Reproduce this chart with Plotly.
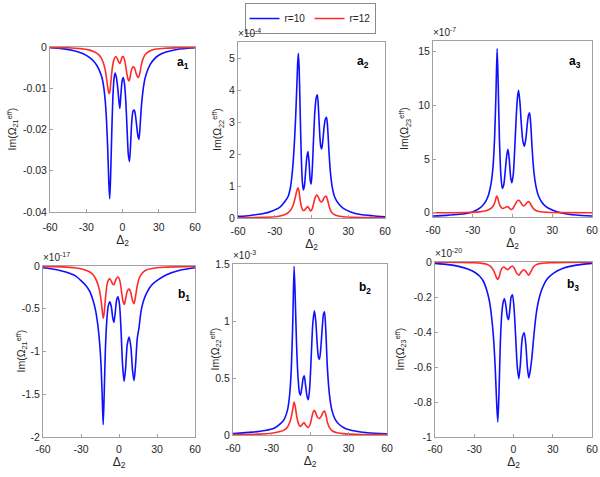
import plotly.graph_objects as go

W, H = 600, 477

# ---------------- data ----------------
# a1 : Im(Omega21 eff)
a1_blue_x = [-60,-50,-40,-33,-28,-24,-21,-19,-17,-15.5,-14.3,-13.2,-12.2,-11.3,-10.6,-9.9,-9,-8,-7,-6.1,-5,-4,-3,-2.2,-1.3,-0.3,0.6,1.7,2.8,3.8,4.8,5.8,6.8,7.8,8.8,9.7,10.7,11.7,12.7,13.6,14.6,15.6,17,18.5,20.5,23,26,30,36,45,60]
a1_blue_y = [-0.0002,-0.0004,-0.0009,-0.0016,-0.0024,-0.0034,-0.0046,-0.0058,-0.0074,-0.0098,-0.013,-0.018,-0.025,-0.033,-0.0368,-0.032,-0.022,-0.0125,-0.0076,-0.0063,-0.0075,-0.0098,-0.013,-0.0149,-0.0115,-0.0082,-0.0074,-0.009,-0.0135,-0.02,-0.026,-0.0278,-0.023,-0.0175,-0.0155,-0.0153,-0.0165,-0.019,-0.0215,-0.0224,-0.019,-0.0145,-0.0105,-0.0078,-0.0058,-0.0042,-0.003,-0.002,-0.0012,-0.0006,-0.0002]
a1_red_x = [-60,-45,-35,-28,-23,-20,-17.5,-15.5,-14,-12.8,-11.8,-11.1,-10.3,-9.4,-8.3,-7,-5.6,-4.3,-3.2,-2.2,-1.2,-0.2,0.6,1.6,2.7,3.8,4.8,5.6,6.5,7.5,8.4,9.2,10.2,11.3,12.4,13.3,14.3,15.3,16.5,18,20,23,28,35,45,60]
a1_red_y = [-0.0001,-0.0002,-0.0004,-0.0007,-0.0012,-0.0018,-0.0027,-0.0042,-0.006,-0.0085,-0.0105,-0.0113,-0.0105,-0.0078,-0.0048,-0.003,-0.0023,-0.0028,-0.0036,-0.004,-0.0032,-0.0024,-0.0023,-0.003,-0.0047,-0.0068,-0.008,-0.0082,-0.007,-0.0055,-0.0049,-0.0048,-0.0053,-0.0064,-0.0072,-0.0074,-0.0064,-0.0048,-0.0033,-0.0022,-0.0015,-0.0009,-0.0005,-0.0003,-0.0002,-0.0001]

# a2 : Im(Omega22 eff) x 1e-4
a2_blue_x = [-60,-50,-40,-32,-26,-22,-19,-17,-15.5,-14.2,-13,-12,-11.2,-10.7,-10.1,-9.3,-8.4,-7.5,-6.7,-5.8,-4.8,-3.8,-2.9,-2,-1.1,-0.3,0.6,1.6,2.7,3.8,4.8,5.7,6.6,7.5,8.3,9.2,10.3,11.4,12.3,13.2,14.3,15.5,17,19,22,26,32,40,50,60]
a2_blue_y = [0.05,0.08,0.13,0.22,0.33,0.5,0.68,1.0,1.5,2.2,3.1,4.1,4.9,5.15,4.7,3.4,2.0,1.15,0.88,1.0,1.45,1.9,2.08,1.75,1.2,1.06,1.5,2.4,3.3,3.75,3.85,3.4,2.7,2.25,2.16,2.4,2.85,3.1,3.15,2.8,2.05,1.4,0.95,0.65,0.45,0.3,0.19,0.11,0.07,0.04]
a2_red_x = [-60,-40,-30,-24,-20,-17,-15,-13.5,-12.2,-11.2,-10.4,-9.4,-8.2,-7,-5.8,-4.6,-3.2,-2,-0.8,0.3,1.5,2.8,4.3,5.6,7,8.3,9.5,10.8,12,13.2,14.5,16,18,21,26,35,60]
a2_red_y = [0.01,0.02,0.04,0.08,0.14,0.25,0.4,0.6,0.82,0.94,0.88,0.6,0.35,0.24,0.24,0.3,0.36,0.3,0.22,0.26,0.42,0.62,0.72,0.65,0.53,0.5,0.57,0.66,0.68,0.55,0.35,0.2,0.12,0.07,0.04,0.02,0.01]

# a3 : Im(Omega23 eff) x 1e-7
a3_blue_x = [-60,-50,-40,-32,-27,-23,-20,-18,-16.2,-14.7,-13.5,-12.5,-11.6,-10.8,-9.9,-8.8,-7.7,-6.6,-5.4,-4.3,-3.4,-2.4,-1.4,-0.5,0.6,1.7,2.8,3.8,4.6,5.6,6.7,7.8,9.0,10.1,11.2,12.1,12.9,13.8,14.8,16,17.5,19.5,22,25,30,38,48,60]
a3_blue_y = [-0.3,-0.25,-0.15,0.0,0.25,0.6,1.1,1.7,2.7,4.3,7,11,15.3,12,7,3.6,2.26,2.6,4.0,5.4,5.9,4.9,3.3,2.8,3.6,6,8.9,10.8,11.4,10.3,8.2,6.7,6.2,6.9,8.3,9.1,9.3,8.2,6,4,2.6,1.6,1.0,0.6,0.25,-0.05,-0.22,-0.3]
a3_red_x = [-60,-35,-25,-20,-17,-15,-13.5,-12.6,-12,-11.2,-10.2,-9,-7.5,-6,-4.5,-3.5,-2.3,-1,0.3,1.5,2.8,4,5,6.2,7.5,8.5,9.7,11,12.2,13.2,14.5,16,18,21,26,35,60]
a3_red_y = [0.0,0.02,0.08,0.18,0.35,0.55,0.9,1.3,1.55,1.4,0.9,0.55,0.4,0.45,0.55,0.55,0.42,0.3,0.4,0.65,0.95,1.15,1.15,0.95,0.7,0.62,0.75,0.95,1.05,0.9,0.6,0.35,0.18,0.09,0.04,0.01,0.0]

# b1 : Im(Omega21 eff) x 1e-17
b1_blue_x = [-60,-50,-42,-35,-30,-26,-23,-20.5,-18.5,-16.8,-15.3,-14.2,-13.3,-12.5,-11.7,-10.8,-9.7,-8.5,-7.2,-6,-5,-4,-3,-1.9,-0.8,0.4,1.6,2.8,4.0,5.2,6.5,8.0,9.4,10.7,11.9,13.1,14.4,15.8,17.5,19.5,22,26,31,38,48,60]
b1_blue_y = [-0.02,-0.04,-0.07,-0.11,-0.17,-0.23,-0.3,-0.4,-0.52,-0.68,-0.9,-1.15,-1.5,-1.856,-1.5,-1.0,-0.65,-0.47,-0.42,-0.48,-0.6,-0.66,-0.55,-0.4,-0.36,-0.45,-0.75,-1.15,-1.35,-1.2,-0.92,-0.83,-0.95,-1.22,-1.34,-1.15,-0.85,-0.72,-0.52,-0.4,-0.31,-0.22,-0.16,-0.1,-0.05,-0.02]
b1_red_x = [-60,-45,-35,-28,-23,-20,-17.5,-15.5,-14,-13.2,-12.5,-11.7,-10.7,-9.5,-8.3,-7.2,-6,-5,-4,-3,-1.8,-0.5,0.8,2,3.1,4.2,5.3,6.6,8,9.3,10.6,11.9,13,14.3,16,18,21,26,35,60]
b1_red_y = [-0.005,-0.01,-0.02,-0.04,-0.07,-0.11,-0.18,-0.28,-0.42,-0.53,-0.61,-0.55,-0.38,-0.22,-0.16,-0.15,-0.18,-0.21,-0.22,-0.18,-0.14,-0.13,-0.18,-0.3,-0.41,-0.45,-0.38,-0.29,-0.27,-0.31,-0.4,-0.44,-0.36,-0.24,-0.14,-0.09,-0.05,-0.03,-0.015,-0.005]

# b2 : Im(Omega22 eff) x 1e-3
b2_blue_x = [-60,-45,-35,-28,-23,-20,-17.5,-15.8,-14.5,-13.4,-12.4,-11.5,-10.5,-9.3,-8.2,-7.4,-6.3,-5.3,-4.5,-3.5,-2.3,-1.3,-0.2,1,2.2,3.4,4.5,5.6,6.6,7.4,8.4,9.6,10.5,11.3,12.3,13.5,15,17,19.5,23,28,35,45,60]
b2_blue_y = [0.012,0.025,0.04,0.06,0.1,0.14,0.22,0.36,0.6,1.0,1.48,1.2,0.8,0.5,0.37,0.35,0.42,0.5,0.52,0.44,0.34,0.31,0.42,0.7,0.98,1.09,1.0,0.8,0.68,0.665,0.76,0.95,1.06,1.08,0.92,0.6,0.37,0.22,0.14,0.09,0.055,0.035,0.02,0.01]
b2_red_x = [-60,-40,-30,-24,-20,-17.5,-15.5,-14,-13,-12.4,-11.5,-10.3,-9,-7.7,-6.2,-4.7,-3.3,-1.5,0,1.3,2.4,3.4,4.6,5.9,7.4,8.8,10.2,11.3,12.4,13.6,15.2,17.5,21,28,40,60]
b2_red_y = [0.003,0.008,0.015,0.028,0.045,0.07,0.12,0.19,0.26,0.29,0.25,0.16,0.1,0.075,0.09,0.11,0.085,0.065,0.09,0.15,0.2,0.217,0.19,0.155,0.145,0.165,0.2,0.21,0.175,0.11,0.065,0.035,0.02,0.01,0.005,0.003]

# b3 : Im(Omega23 eff) x 1e-20
b3_blue_x = [-60,-50,-42,-35,-30,-26,-23,-20.5,-18.5,-16.8,-15.3,-14,-12.9,-12.0,-11.1,-10.1,-9,-7.9,-6.9,-5.8,-4.8,-3.8,-2.8,-1.8,-0.8,0.4,1.6,2.9,4.1,5.3,6.8,8.2,9.4,10.6,11.7,12.8,14,15.2,17.3,19.5,22,26,31,38,48,60]
b3_blue_y = [-0.008,-0.015,-0.025,-0.04,-0.057,-0.08,-0.11,-0.16,-0.22,-0.31,-0.43,-0.6,-0.8,-0.914,-0.75,-0.47,-0.3,-0.23,-0.21,-0.25,-0.31,-0.33,-0.27,-0.2,-0.187,-0.26,-0.42,-0.6,-0.667,-0.58,-0.43,-0.404,-0.47,-0.6,-0.663,-0.62,-0.55,-0.45,-0.3,-0.21,-0.15,-0.095,-0.062,-0.036,-0.018,-0.008]
b3_red_x = [-60,-40,-30,-24,-20,-17.5,-15.5,-14,-13,-12,-11,-10,-8.8,-7.4,-5.8,-4.3,-2.7,-1,0.6,2.3,4.1,5.8,7.9,9.8,11.7,13.3,15,17.5,21,28,40,60]
b3_red_y = [-0.001,-0.002,-0.004,-0.008,-0.014,-0.025,-0.045,-0.07,-0.09,-0.099,-0.085,-0.057,-0.036,-0.029,-0.037,-0.044,-0.032,-0.023,-0.035,-0.062,-0.076,-0.058,-0.044,-0.058,-0.076,-0.055,-0.03,-0.015,-0.008,-0.004,-0.002,-0.001]

x_ticks = [-60, -30, 0, 30, 60]

panels = [
    dict(bx=a1_blue_x, by=a1_blue_y, rx=a1_red_x, ry=a1_red_y, yr=[-0.04, 0],
         yt=[-0.04, -0.03, -0.02, -0.01, 0], ytl=["-0.04", "-0.03", "-0.02", "-0.01", "0"],
         exp=None, sub="21", lab="a", labn="1",
         box=(50, 195, 47, 212), ytx=12, labxy=(183, 63), xso=5),
    dict(bx=a2_blue_x, by=a2_blue_y, rx=a2_red_x, ry=a2_red_y, yr=[0, 5.5],
         yt=[0, 1, 2, 3, 4, 5], ytl=["0", "1", "2", "3", "4", "5"],
         exp="-4", sub="22", lab="a", labn="2",
         box=(238, 385, 42, 218), ytx=218, labxy=(363, 62), xso=3),
    dict(bx=a3_blue_x, by=a3_blue_y, rx=a3_red_x, ry=a3_red_y, yr=[-0.4, 16],
         yt=[0, 5, 10, 15], ytl=["0", "5", "10", "15"],
         exp="-7", sub="23", lab="a", labn="3",
         box=(433, 592, 41, 217), ytx=405, labxy=(575, 62), xso=3),
    dict(bx=b1_blue_x, by=b1_blue_y, rx=b1_red_x, ry=b1_red_y, yr=[-2, 0],
         yt=[-2, -1.5, -1, -0.5, 0], ytl=["-2", "-1.5", "-1", "-0.5", "0"],
         exp="-17", sub="21", lab="b", labn="1",
         box=(43, 195, 266, 437), ytx=21, labxy=(184, 295), xso=2),
    dict(bx=b2_blue_x, by=b2_blue_y, rx=b2_red_x, ry=b2_red_y, yr=[0, 1.5],
         yt=[0, 0.5, 1, 1.5], ytl=["0", "0.5", "1", "1.5"],
         exp="-3", sub="22", lab="b", labn="2",
         box=(233, 387, 264, 435), ytx=215, labxy=(365, 288), xso=3),
    dict(bx=b3_blue_x, by=b3_blue_y, rx=b3_red_x, ry=b3_red_y, yr=[-1, 0],
         yt=[-1, -0.8, -0.6, -0.4, -0.2, 0], ytl=["-1", "-0.8", "-0.6", "-0.4", "-0.2", "0"],
         exp="-20", sub="23", lab="b", labn="3",
         box=(435, 592, 262, 437), ytx=400, labxy=(573, 285), xso=2),
]

BLUE = "#1010ff"
RED = "#ff2a2a"
FONT = "Liberation Sans, Arial, sans-serif"
TXT = "#262626"
AX = "#a0a0a0"

fig = go.Figure()
layout = dict(
    width=W, height=H, margin=dict(l=0, r=0, t=0, b=0, autoexpand=False),
    paper_bgcolor="white", plot_bgcolor="white",
    font=dict(family=FONT, size=10, color=TXT),
    showlegend=True,
    legend=dict(orientation="h", x=310 / W, y=1 - 3 / H, xanchor="center", yanchor="top",
                bordercolor="#8a8a8a", borderwidth=1, bgcolor="white",
                font=dict(size=10, color=TXT), tracegroupgap=0,
                entrywidthmode="pixels", entrywidth=20),
)
annotations = []

for i, p in enumerate(panels):
    k = "" if i == 0 else str(i + 1)
    x0, x1, y0, y1 = p["box"]
    xa = "x" + k
    ya = "y" + k
    fig.add_trace(go.Scatter(x=p["bx"], y=p["by"], mode="lines", name="r=10",
                             line=dict(color=BLUE, width=1.6, shape="spline", smoothing=0.7),
                             xaxis=xa, yaxis=ya, showlegend=(i == 0), legendgroup="b"))
    fig.add_trace(go.Scatter(x=p["rx"], y=p["ry"], mode="lines", name="r=12",
                             line=dict(color=RED, width=1.6, shape="spline", smoothing=0.7),
                             xaxis=xa, yaxis=ya, showlegend=(i == 0), legendgroup="r"))
    common = dict(showline=True, linecolor=AX, linewidth=1, mirror=True, automargin=False,
                  ticks="inside", ticklen=3, tickcolor=AX, showgrid=False, zeroline=False,
                  tickfont=dict(size=10.5, color=TXT))
    layout["xaxis" + k] = dict(common, domain=[x0 / W, x1 / W], anchor=ya, range=[-60, 60],
                               tickvals=x_ticks, ticktext=[str(t) for t in x_ticks],
                               ticklabelstandoff=p["xso"],
                               title=dict(text="Δ<sub>2</sub>", font=dict(size=12, color=TXT), standoff=3))
    layout["yaxis" + k] = dict(common, domain=[1 - y1 / H, 1 - y0 / H], anchor=xa, range=p["yr"],
                               tickvals=p["yt"], ticktext=p["ytl"])
    annotations.append(dict(x=p["ytx"] / W, y=1 - (y0 + y1) / 2 / H, xref="paper", yref="paper",
                            xanchor="center", yanchor="middle", showarrow=False, textangle=-90,
                            text="Im(Ω<sub>%s</sub><sup>eff</sup>)" % p["sub"],
                            font=dict(size=10.5, color=TXT)))
    lx, ly = p["labxy"]
    annotations.append(dict(x=lx / W, y=1 - ly / H, xref="paper", yref="paper",
                            xanchor="center", yanchor="middle", showarrow=False,
                            text="<b>%s<sub>%s</sub></b>" % (p["lab"], p["labn"]),
                            font=dict(size=12, color="black")))
    if p["exp"]:
        annotations.append(dict(x=x0 / W - 2 / W, y=1 - (y0 - 1) / H, xref="paper", yref="paper",
                                xanchor="left", yanchor="bottom", showarrow=False,
                                text="×10<sup>%s</sup>" % p["exp"],
                                font=dict(size=10, color=TXT)))

layout["annotations"] = annotations
fig.update_layout(**layout)
fig.write_html("out.html", config={"displayModeBar": False},
               post_script="document.body.style.margin='0px';")
